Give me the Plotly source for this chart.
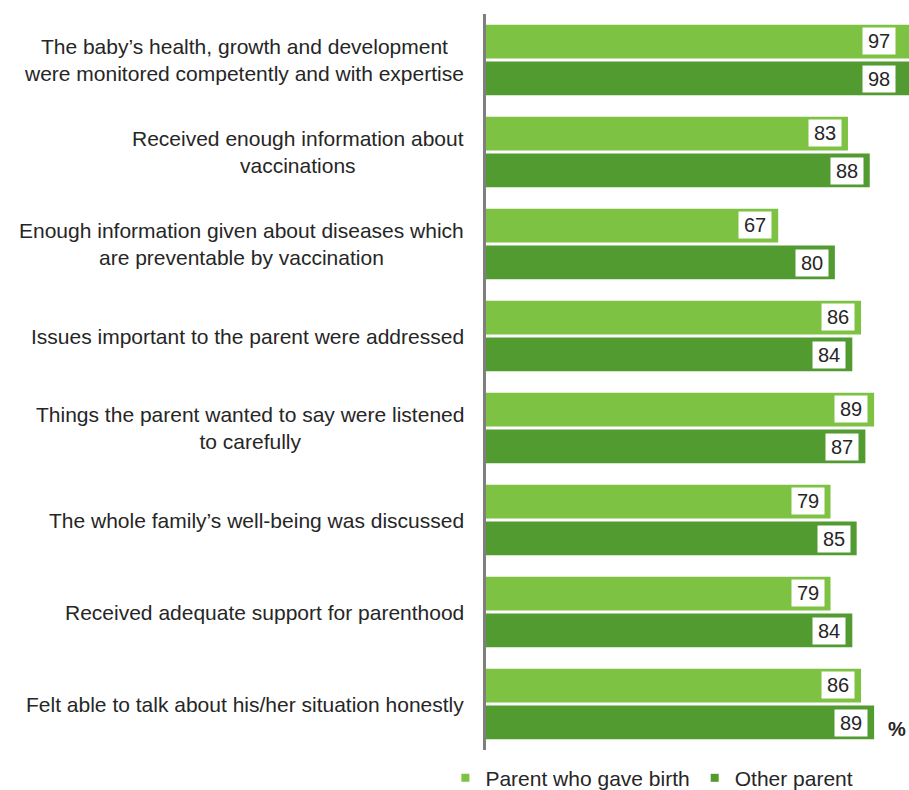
import plotly.graph_objects as go

categories = [
    "The baby’s health, growth and development<br>were monitored competently and with expertise",
    "Received enough information about<br>vaccinations",
    "Enough information given about diseases which<br>are preventable by vaccination",
    "Issues important to the parent were addressed",
    "Things the parent wanted to say were listened<br>to carefully",
    "The whole family’s well-being was discussed",
    "Received adequate support for parenthood",
    "Felt able to talk about his/her situation honestly",
]
birth_parent = [97, 83, 67, 86, 89, 79, 79, 86]
other_parent = [98, 88, 80, 84, 87, 85, 84, 89]
series_names = ["Parent who gave birth", "Other parent"]

LIGHT = "#7DC242"
DARK = "#519B30"
FONT = "Liberation Sans, Arial, sans-serif"
TEXT = "#262626"
X_MAX = 97

fig = go.Figure()
for name, vals, col in [(series_names[0], birth_parent, LIGHT),
                        (series_names[1], other_parent, DARK)]:
    fig.add_trace(go.Bar(
        y=categories, x=vals, orientation="h", name=name,
        marker=dict(color=col, line=dict(width=0)),
        showlegend=False, cliponaxis=True,
    ))
    # legend entry with a small square marker
    fig.add_trace(go.Scatter(
        x=[None], y=[None], mode="markers", name=name,
        marker=dict(symbol="square", size=8, color=col),
    ))

annotations = []
# category labels, centred lines, to the left of the axis
for cat in categories:
    annotations.append(dict(
        x=0, xref="paper", y=cat, yref="y", text=cat, showarrow=False,
        xanchor="right", yanchor="middle", align="center", xshift=-20,
        font=dict(family=FONT, size=21, color=TEXT),
    ))

# value boxes near bar ends
for trace_idx, vals in enumerate([birth_parent, other_parent]):
    offset = -0.205 if trace_idx == 0 else 0.205
    for i, v in enumerate(vals):
        annotations.append(dict(
            x=min(v, X_MAX - 1.5), xref="x", y=i + offset, yref="y",
            text=str(v), showarrow=False, xanchor="right", yanchor="middle",
            xshift=-6, bgcolor="white", borderpad=2, width=28,
            font=dict(family=FONT, size=20, color=TEXT),
        ))

annotations.append(dict(
    x=1, xref="paper", y=0, yref="paper", text="<b>%</b>", showarrow=False,
    xanchor="right", yanchor="bottom", xshift=-1, yshift=8,
    font=dict(family=FONT, size=20, color=TEXT),
))

fig.update_layout(
    width=909, height=790,
    margin=dict(l=486, r=0, t=14, b=40, autoexpand=False),
    plot_bgcolor="white", paper_bgcolor="white",
    barmode="group", bargap=0.2, bargroupgap=0.08,
    xaxis=dict(range=[0, X_MAX], visible=False, fixedrange=True),
    yaxis=dict(
        autorange="reversed", showticklabels=False, ticks="",
        showline=True, linecolor="#7F7F7F", linewidth=3, showgrid=False,
        zeroline=False,
    ),
    annotations=annotations,
    legend=dict(
        orientation="h", xref="container", yref="container",
        x=0.49, y=0.015, xanchor="left", yanchor="middle",
        font=dict(family=FONT, size=21, color=TEXT),
        itemwidth=30,
        bgcolor="rgba(0,0,0,0)",
    ),
    font=dict(family=FONT),
)

fig.write_html("out.html")
